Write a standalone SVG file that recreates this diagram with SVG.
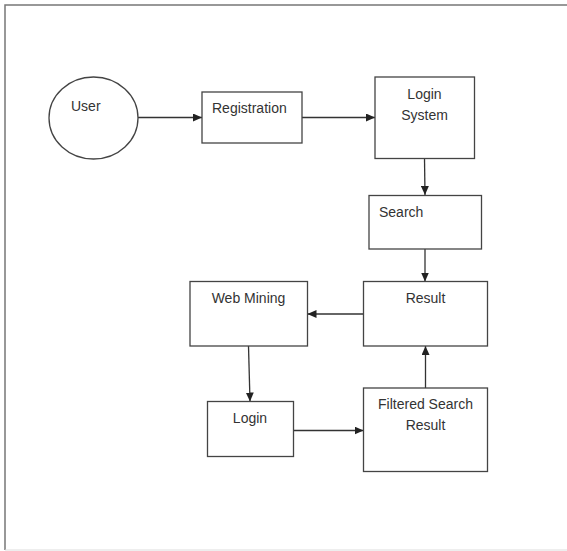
<svg xmlns="http://www.w3.org/2000/svg" width="567" height="551" viewBox="0 0 567 551">
<defs>
<marker id="ah" markerWidth="9" markerHeight="8" refX="9" refY="4" orient="auto" markerUnits="userSpaceOnUse">
<path d="M0,0 L9,4 L0,8 Z" fill="#222"/>
</marker>
<style>
.box{fill:#fff;stroke:#444;stroke-width:1.3}
.t{font-family:"Liberation Sans",Arial,sans-serif;font-size:14px;fill:#333}
.c{text-anchor:middle}
.ln{stroke:#333;stroke-width:1.3;fill:none;marker-end:url(#ah)}
</style>
</defs>
<rect width="567" height="551" fill="#fff"/>
<g id="frame">
<path d="M5,550 L5,5 L567,5" fill="none" stroke="#777" stroke-width="1.5"/>
<line x1="5" y1="550" x2="567" y2="550" stroke="#ddd" stroke-width="1"/>
</g>
<g id="connectors">
<line class="ln" x1="138" y1="117.5" x2="202" y2="117.5"/>
<line class="ln" x1="302" y1="117.5" x2="375" y2="117.5"/>
<line class="ln" x1="424.5" y1="158.5" x2="425" y2="195"/>
<line class="ln" x1="425" y1="249" x2="425" y2="281.5"/>
<line class="ln" x1="363.5" y1="314" x2="307.5" y2="314"/>
<line class="ln" x1="248.5" y1="346" x2="250" y2="401.5"/>
<line class="ln" x1="293.5" y1="430.5" x2="363.5" y2="430.5"/>
<line class="ln" x1="425.5" y1="388" x2="425.5" y2="346"/>
</g>
<g id="user">
<ellipse class="box" cx="93.5" cy="118" rx="44.5" ry="41"/>
<text class="t" x="71" y="111">User</text>
</g>
<g id="registration">
<rect class="box" x="202" y="92" width="100" height="51"/>
<text class="t" x="212" y="113">Registration</text>
</g>
<g id="login-system">
<rect class="box" x="375" y="77" width="99.5" height="81.5"/>
<text class="t c" x="424.5" y="99">Login</text>
<text class="t c" x="424.5" y="120">System</text>
</g>
<g id="search">
<rect class="box" x="369" y="195.5" width="112.5" height="53.5"/>
<text class="t" x="379" y="217">Search</text>
</g>
<g id="result">
<rect class="box" x="363.5" y="281.5" width="124" height="64.5"/>
<text class="t c" x="425.5" y="303">Result</text>
</g>
<g id="web-mining">
<rect class="box" x="190" y="281.5" width="117.5" height="64.5"/>
<text class="t c" x="248.5" y="303">Web Mining</text>
</g>
<g id="login">
<rect class="box" x="207.5" y="401.5" width="86" height="55"/>
<text class="t c" x="250" y="423">Login</text>
</g>
<g id="filtered-search-result">
<rect class="box" x="363.5" y="388" width="124" height="83.5"/>
<text class="t c" x="425.5" y="409">Filtered Search</text>
<text class="t c" x="425.5" y="430">Result</text>
</g>
</svg>
